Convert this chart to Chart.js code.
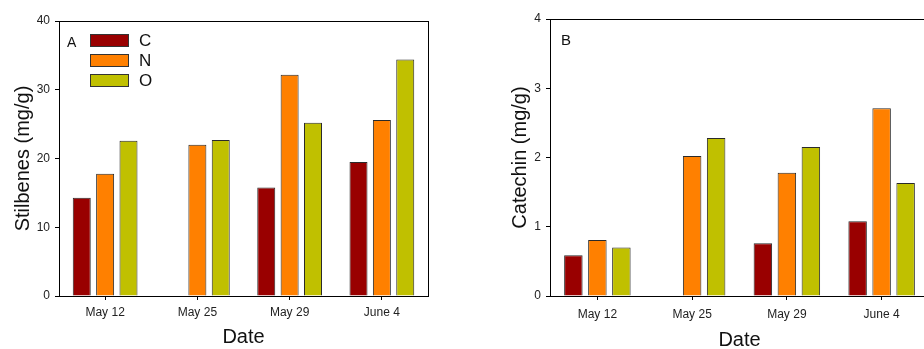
<!DOCTYPE html>
<html>
<head>
<meta charset="utf-8">
<title>Stilbenes and catechin</title>
<script src="https://cdn.jsdelivr.net/npm/chart.js@4.4.1/dist/chart.umd.min.js"></script>
<style>
  html, body { margin: 0; padding: 0; background: #fff; }
  body { width: 924px; height: 349px; overflow: hidden; position: relative; }
  .panel { position: absolute; top: 0; }
  #panelA { left: 0; width: 462px; height: 349px; }
  #panelB { left: 497px; width: 450px; height: 352px; }
</style>
</head>
<body>
<div class="panel" id="panelA"><canvas id="chartA"></canvas></div>
<div class="panel" id="panelB"><canvas id="chartB"></canvas></div>
<script>
/* Data */
const dates = ['May 12', 'May 25', 'May 29', 'June 4'];
const treatments = ['C', 'N', 'O'];
const treatmentColors = ['#990000', '#ff8000', '#c0c000'];

// panel A - stilbenes (mg/g)
const stilbenesC = [14.3, null, 15.8, 19.5];
const stilbenesN = [17.8, 22.0, 32.2, 25.6];
const stilbenesO = [22.6, 22.7, 25.2, 34.4];
const stilbenesTicks = [0, 10, 20, 30, 40];

// panel B - catechin (mg/g)
const catechinC = [0.59, null, 0.76, 1.08];
const catechinN = [0.81, 2.02, 1.78, 2.71];
const catechinO = [0.70, 2.28, 2.15, 1.63];
const catechinTicks = [0, 1, 2, 3, 4];

const FONT = '"Liberation Sans", Arial, Helvetica, sans-serif';
Chart.defaults.font.family = FONT;

// frame round the plot, panel letter and the inset legend
const panelMarks = {
  id: 'panelMarks',
  afterDraw(chart, args, opts) {
    const { ctx, chartArea: a } = chart;
    ctx.save();
    ctx.strokeStyle = '#000';
    ctx.lineWidth = 1;
    ctx.strokeRect(Math.round(a.left) + 0.5, Math.round(a.top) + 0.5,
      Math.round(a.right - a.left), Math.round(a.bottom - a.top));

    ctx.fillStyle = '#111';
    ctx.textBaseline = 'alphabetic';
    ctx.font = opts.letterSize + 'px ' + FONT;
    ctx.fillText(opts.letter, a.left + opts.letterX, a.top + opts.letterY);

    if (opts.legend) {
      ctx.font = '17px ' + FONT;
      ctx.textBaseline = 'middle';
      chart.data.datasets.forEach((ds, i) => {
        const x = Math.round(a.left) + 31;
        const y = Math.round(a.top) + 13 + i * 20;
        ctx.fillStyle = ds.backgroundColor;
        ctx.fillRect(x, y, 39, 13);
        ctx.strokeStyle = '#333';
        ctx.strokeRect(x + 0.5, y + 0.5, 38, 12);
        ctx.fillStyle = '#111';
        ctx.fillText(ds.label, x + 49, y + 7.5);
      });
    }
    ctx.restore();
  }
};

function makeDatasets(series) {
  return series.map((values, i) => ({
    label: treatments[i],
    data: values,
    backgroundColor: treatmentColors[i],
    borderColor: '#2a2a2a',
    borderWidth: 1,
    categoryPercentage: 0.76,
    barPercentage: 0.77
  }));
}

function makeOptions(cfg) {
  return {
    responsive: true,
    maintainAspectRatio: false,
    animation: false,
    devicePixelRatio: 1,
    layout: { padding: { left: 0, top: cfg.top, right: cfg.right, bottom: 0 } },
    plugins: {
      legend: { display: false },
      tooltip: { enabled: false },
      panelMarks: cfg.marks
    },
    scales: {
      x: {
        grid: { display: true, offset: false, drawOnChartArea: false, drawTicks: true, tickLength: 4, color: '#000' },
        border: { display: false },
        ticks: { color: '#222', font: { size: 12 }, padding: cfg.xPad, maxRotation: 0 },
        title: { display: true, text: 'Date', color: '#111', font: { size: 20, lineHeight: 1 }, padding: { top: 0, bottom: 2 } },
        afterFit(scale) { scale.height = cfg.xHeight; }
      },
      y: {
        min: cfg.ticks[0],
        max: cfg.ticks[cfg.ticks.length - 1],
        afterBuildTicks(scale) { scale.ticks = cfg.ticks.map(v => ({ value: v })); },
        grid: { display: true, drawOnChartArea: false, drawTicks: true, tickLength: 4, color: '#000' },
        border: { display: false },
        ticks: { color: '#222', font: { size: 12 }, padding: 5 },
        title: { display: true, text: cfg.yTitle, color: '#111', font: { size: 20, lineHeight: 1 }, padding: { top: 13, bottom: 0 } },
        afterFit(scale) { scale.width = cfg.yWidth; }
      }
    }
  };
}

new Chart(document.getElementById('chartA'), {
  type: 'bar',
  data: { labels: dates, datasets: makeDatasets([stilbenesC, stilbenesN, stilbenesO]) },
  options: makeOptions({
    top: 21, right: 34, xHeight: 53, yWidth: 59, xPad: 5,
    ticks: stilbenesTicks, yTitle: 'Stilbenes (mg/g)',
    marks: { letter: 'A', letterSize: 14, letterX: 8, letterY: 25.5, legend: true }
  }),
  plugins: [panelMarks]
});

new Chart(document.getElementById('chartB'), {
  type: 'bar',
  data: { labels: dates, datasets: makeDatasets([catechinC, catechinN, catechinO]) },
  options: makeOptions({
    top: 19, right: 18, xHeight: 56, yWidth: 53, xPad: 7,
    ticks: catechinTicks, yTitle: 'Catechin (mg/g)',
    marks: { letter: 'B', letterSize: 15, letterX: 11, letterY: 26, legend: false }
  }),
  plugins: [panelMarks]
});
</script>
</body>
</html>
